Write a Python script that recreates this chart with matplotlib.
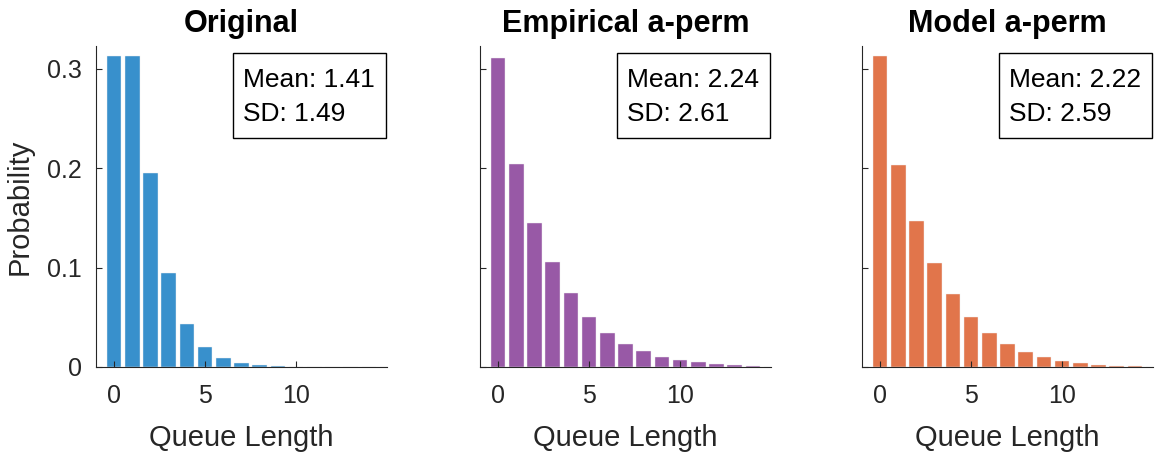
import numpy as np
import matplotlib
matplotlib.use("Agg")
import matplotlib.pyplot as plt
from matplotlib.patches import Rectangle

plt.rcParams['font.family'] = ['Liberation Sans', 'DejaVu Sans']

# queue length bins and probabilities
queue_len = np.arange(16)
p_original = [0.3125, 0.3125, 0.1953, 0.0950, 0.0434, 0.0202, 0.0091, 0.0044,
              0.0020, 0.0007, 0, 0, 0, 0, 0, 0]
p_empirical = [0.3108, 0.2040, 0.1444, 0.1054, 0.0741, 0.0502, 0.0347, 0.0229,
               0.0158, 0.0098, 0.0068, 0.0047, 0.0030, 0.0017, 0.0010, 0.0004]
p_model = [0.3125, 0.2037, 0.1468, 0.1051, 0.0734, 0.0505, 0.0340, 0.0229,
           0.0152, 0.0098, 0.0064, 0.0037, 0.0024, 0.0014, 0.0007, 0.0003]

titles = ["Original", "Empirical a-perm", "Model a-perm"]
means = ["Mean: 1.41", "Mean: 2.24", "Mean: 2.22"]
sds = ["SD: 1.49", "SD: 2.61", "SD: 2.59"]
colors = ["#3890CC", "#9859A6", "#E1754B"]
series = [p_original, p_empirical, p_model]

fig = plt.figure(figsize=(11.68, 4.54), dpi=100)
lefts = [96, 480, 862]
for i in range(3):
    ax = fig.add_axes([lefts[i] / 1168, 1 - 367 / 454, 291 / 1168, 321 / 454])
    ax.bar(queue_len, series[i], width=0.8, color=colors[i],
           edgecolor="#f0f0f0", linewidth=0.3)
    ax.set_xlim(-1, 15)
    ax.set_ylim(0, 0.323)
    ax.set_xticks([0, 5, 10])
    ax.set_yticks([0, 0.1, 0.2, 0.3])
    if i == 0:
        ax.set_yticklabels(["0", "0.1", "0.2", "0.3"])
        ax.set_ylabel("Probability", fontsize=21, color="#262626", labelpad=10)
    else:
        ax.set_yticklabels([])
    ax.set_xlabel("Queue Length", fontsize=21, color="#262626", labelpad=12)
    ax.set_title(titles[i], fontsize=22, fontweight="bold", pad=10)
    for s in ["top", "right"]:
        ax.spines[s].set_visible(False)
    for s in ["left", "bottom"]:
        ax.spines[s].set_color("#262626")
        ax.spines[s].set_linewidth(0.8)
    ax.tick_params(direction="in", length=4, labelsize=18, colors="#262626",
                   width=0.8)
    ax.tick_params(axis="x", pad=12)
    ax.tick_params(axis="y", pad=10)
    # stats box
    ax.add_patch(Rectangle((0.471, 0.713), 0.526, 0.265, transform=ax.transAxes,
                           fc="white", ec="black", lw=1, zorder=3,
                           clip_on=False))
    ax.text(0.505, 0.893, means[i], transform=ax.transAxes, fontsize=19,
            va="center", ha="left", zorder=4)
    ax.text(0.505, 0.789, sds[i], transform=ax.transAxes, fontsize=19,
            va="center", ha="left", zorder=4)

fig.savefig("out.png", dpi=100)
